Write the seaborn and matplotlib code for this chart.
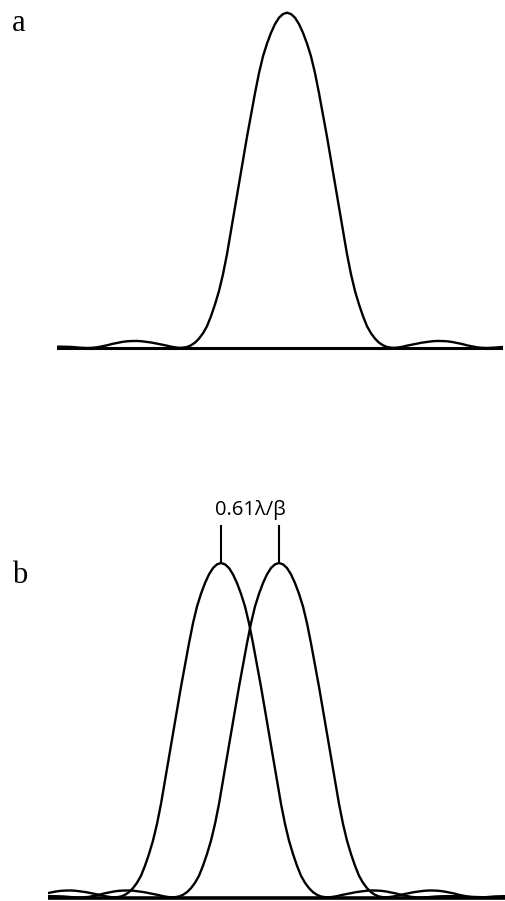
import numpy as np
import pandas as pd
import matplotlib
matplotlib.use("Agg")
import matplotlib.pyplot as plt
import seaborn as sns

# half profile of one diffraction spot
# (offset from the peak, relative intensity); the spot is symmetric
offset = [0, 4, 8, 12, 16, 20, 24, 28, 32, 36, 40, 44, 48, 52, 56, 60, 64,
          68, 72, 76, 80, 84, 88, 92, 96, 100, 104, 108, 112, 116, 120, 125,
          130, 135, 140, 145, 150, 155, 160, 165, 170, 175, 180, 185, 190,
          195, 200, 207, 215, 222, 230, 240, 250, 260, 270, 280, 290]
level = [1.0, 0.996, 0.985, 0.966, 0.94, 0.908, 0.87, 0.82, 0.76, 0.695,
         0.63, 0.56, 0.49, 0.42, 0.35, 0.28, 0.22, 0.17, 0.13, 0.095, 0.065,
         0.044, 0.028, 0.016, 0.008, 0.003, 0.001, 0.0005, 0.002, 0.004,
         0.007, 0.010, 0.013, 0.016, 0.018, 0.020, 0.021, 0.0208, 0.020,
         0.018, 0.015, 0.012, 0.008, 0.005, 0.002, 0.0005, 0.0, 0.001, 0.003,
         0.0038, 0.004, 0.0035, 0.002, 0.001, 0.0, 0.001, 0.002]

centers_a = [0]
centers_b = [0, 58]          # two spots 0.61 lambda/beta apart
sep_label = "0.61\u03bb/\u03b2"
panel_labels = ["a", "b"]

W, H = 505, 901


def spot_table(centers):
    off = np.array(offset, float)
    lev = np.array(level, float)
    xs = np.concatenate([-off[::-1], off[1:]])
    ys = np.concatenate([lev[::-1], lev[1:]])
    rows = []
    for i, c in enumerate(centers):
        rows.append(pd.DataFrame({"x": xs + c, "y": ys, "spot": i}))
    return pd.concat(rows, ignore_index=True)


def make_axes(fig, x0, x1, y_top, y_bot, y_one, y_zero):
    # axes box in pixels, y=1 at y_one and y=0 at y_zero
    ax = fig.add_axes([x0 / W, 1 - y_bot / H, (x1 - x0) / W, (y_bot - y_top) / H])
    s = y_zero - y_one
    ax.set_ylim(-(y_bot - y_zero) / s, 1 + (y_one - y_top) / s)
    ax.axis("off")
    return ax, s


sns.set_theme(style="white")
fig = plt.figure(figsize=(W / 100, H / 100), dpi=100)

# panel a
ax_a, s_a = make_axes(fig, 57, 503, 0, 360, 12.7, 348)
ax_a.set_xlim(-230, 216)
sns.lineplot(data=spot_table(centers_a), x="x", y="y", units="spot",
             estimator=None, sort=False, color="black", lw=1.7, ax=ax_a)
ax_a.axhline(0, color="black", lw=2.2)

# panel b
ax_b, s_b = make_axes(fig, 48, 505, 400, 901, 563, 897.5)
ax_b.set_xlim(-173, 284)
sns.lineplot(data=spot_table(centers_b), x="x", y="y", units="spot",
             estimator=None, sort=False, color="black", lw=1.7, ax=ax_b)
ax_b.axhline(0, color="black", lw=2.6)
tick_top = 1 + 38 / s_b
ax_b.vlines(centers_b, 1, tick_top, color="black", lw=1.5)
ax_b.text(np.mean(centers_b), 1 + 53 / s_b, sep_label, ha="center", va="center",
          fontsize=14.5, family=["Open Sans", "DejaVu Sans"], color="black")

fig.text(19 / W, 1 - 31 / H, panel_labels[0], ha="center", va="baseline",
         fontsize=22, family="Liberation Serif", color="black")
fig.text(20 / W, 1 - 583 / H, panel_labels[1], ha="center", va="baseline",
         fontsize=22, family="Liberation Serif", color="black")

fig.savefig("out.png", dpi=100)
